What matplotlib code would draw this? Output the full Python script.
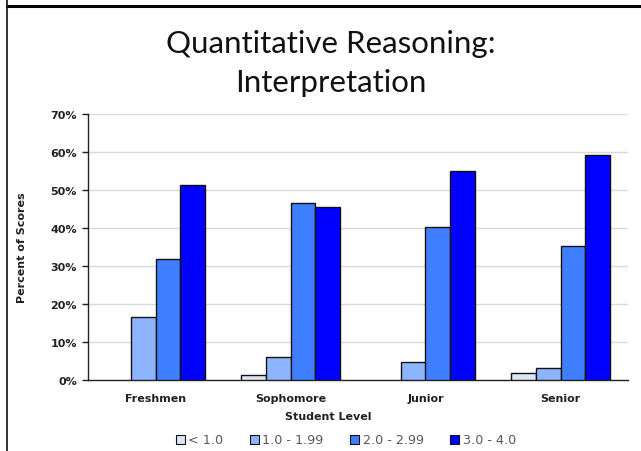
import matplotlib
matplotlib.use('Agg')
import matplotlib.pyplot as plt
import matplotlib.patches as mpatches
from matplotlib.lines import Line2D
from matplotlib.ticker import FuncFormatter
import numpy as np

# ── Data ────────────────────────────────────────────────────────────
levels = ["Freshmen", "Sophomore", "Junior", "Senior"]
gpa_bands = ["< 1.0", "1.0 - 1.99", "2.0 - 2.99", "3.0 - 4.0"]
below_1 = [0.0, 1.2, 0.0, 1.9]
from_1 = [16.5, 6.1, 4.8, 3.2]
from_2 = [31.8, 46.7, 40.2, 35.3]
from_3 = [51.3, 45.4, 55.1, 59.2]
band_colors = ["#dce6f5", "#8db4ff", "#3f7fff", "#0000ff"]

series = [below_1, from_1, from_2, from_3]

# ── Figure ──────────────────────────────────────────────────────────
fig = plt.figure(figsize=(6.41, 4.52), dpi=100)
fig.patch.set_facecolor('white')
ax = fig.add_axes([88 / 641, 1 - 381 / 452, 540 / 641, 266 / 452])

x = np.arange(len(levels))
w = 0.185
for i, (vals, col) in enumerate(zip(series, band_colors)):
    # empty bars get no outline so they vanish into the baseline
    lws = [1.0 if v > 0 else 0 for v in vals]
    ax.bar(x + (i - 1.5) * w, vals, width=w, color=col, edgecolor='#111111',
           linewidth=lws, zorder=3, label=gpa_bands[i])

ax.set_xlim(-0.5, 3.5)
ax.set_ylim(0, 70)
ax.set_yticks(np.arange(0, 71, 10))
ax.yaxis.grid(True, color='#d9d9d9', linewidth=1.0, zorder=0)
ax.set_axisbelow(True)

for s in ['top', 'right']:
    ax.spines[s].set_visible(False)
ax.spines['left'].set_color('#222222')
ax.spines['bottom'].set_color('#222222')
ax.spines['left'].set_linewidth(1.0)
ax.spines['bottom'].set_linewidth(1.0)

lab_font = dict(family='DejaVu Sans', fontweight='bold', fontsize=8,
                color='#222222')

ax.tick_params(axis='y', direction='out', length=4, width=1, color='#222222',
               pad=4)
ax.tick_params(axis='x', length=0, pad=9)
ax.set_xticks(x)
ax.set_xticklabels(levels, **lab_font)
ax.set_yticklabels(ax.get_yticklabels(), **lab_font)
ax.yaxis.set_major_formatter(FuncFormatter(lambda v, _: f"{int(v)}%"))

ax.set_ylabel('Percent of Scores', **lab_font)
ax.yaxis.set_label_coords(-0.113, 0.5)

fig.text(328 / 641, 1 - 417 / 452, 'Student Level', ha='center', va='center',
         **lab_font)

# ── Title ───────────────────────────────────────────────────────────
fig.text(331 / 641, 1 - 44 / 452, 'Quantitative Reasoning:', ha='center',
         va='center', fontsize=22.5, family='Lato', color='#111111')
fig.text(331 / 641, 1 - 83 / 452, 'Interpretation', ha='center',
         va='center', fontsize=22.5, family='Lato', color='#111111')

# ── Legend ──────────────────────────────────────────────────────────
handles = [mpatches.Patch(facecolor=c, edgecolor='#111111', linewidth=0.8,
                          label=b) for c, b in zip(band_colors, gpa_bands)]
leg = fig.legend(handles=handles, loc='center', ncol=4,
                 bbox_to_anchor=(346 / 641, 1 - 441 / 452), frameon=False,
                 handlelength=0.7, handleheight=0.7,
                 handletextpad=0.25, columnspacing=2.1,
                 prop={'family': 'DejaVu Sans', 'size': 9.2})
for t in leg.get_texts():
    t.set_color('#595959')

# ── Frame lines ─────────────────────────────────────────────────────
fig.add_artist(Line2D([7 / 641, 1], [1 - 7 / 452, 1 - 7 / 452],
                      transform=fig.transFigure, color='black', linewidth=2.2))
fig.add_artist(Line2D([7 / 641, 7 / 641], [0, 1],
                      transform=fig.transFigure, color='#222222', linewidth=1.3))

fig.savefig('out.png', dpi=100, facecolor='white')
plt.close()
